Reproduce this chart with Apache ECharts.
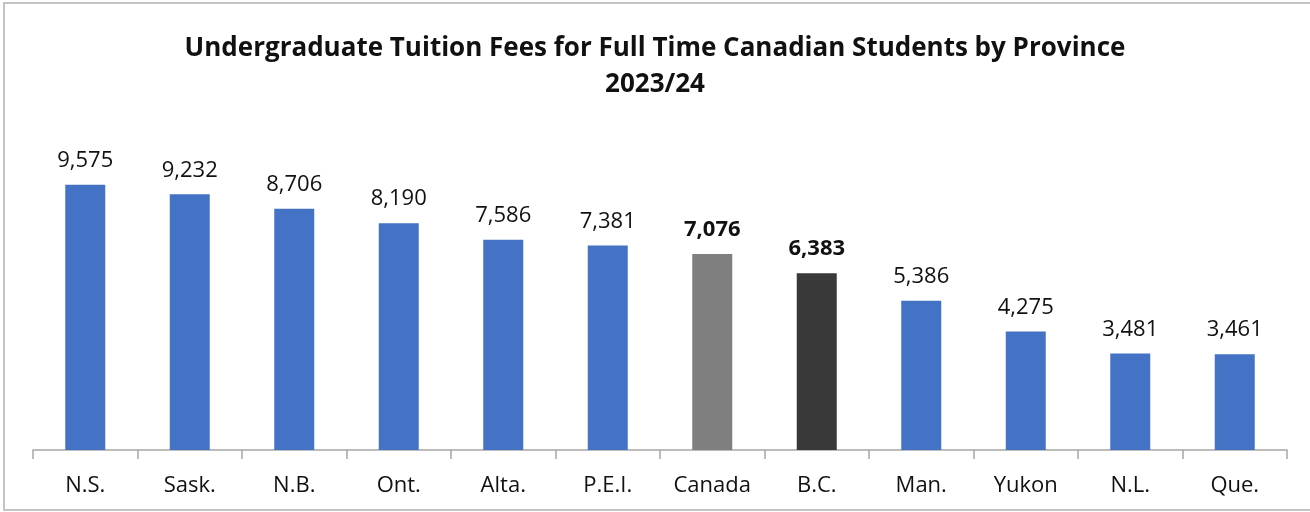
<!DOCTYPE html>
<html>
<head>
<meta charset="utf-8">
<script src="https://cdn.jsdelivr.net/npm/echarts@6/dist/echarts.min.js"></script>
<style>
  html, body { margin: 0; padding: 0; background: #fff; }
  #main { width: 1310px; height: 512px; }
</style>
</head>
<body>
<div id="main"></div>
<script>
var provinces = ['N.S.', 'Sask.', 'N.B.', 'Ont.', 'Alta.', 'P.E.I.', 'Canada', 'B.C.', 'Man.', 'Yukon', 'N.L.', 'Que.'];
var fees = [9575, 9232, 8706, 8190, 7586, 7381, 7076, 6383, 5386, 4275, 3481, 3461];
var highlight = { 'Canada': '#7f7f7f', 'B.C.': '#393939' };

var chart = echarts.init(document.getElementById('main'));

var barData = fees.map(function (v, i) {
  var name = provinces[i];
  var item = { value: v };
  if (highlight[name]) {
    item.itemStyle = { color: highlight[name] };
    item.label = { fontWeight: 'bold' };
  }
  return item;
});

chart.setOption({
  backgroundColor: '#fff',
  title: {
    text: 'Undergraduate Tuition Fees for Full Time Canadian Students by Province\n2023/24',
    left: 'center',
    top: 26,
    textStyle: {
      fontFamily: 'Open Sans',
      fontWeight: 'bold',
      fontSize: 26,
      color: '#111',
      lineHeight: 36
    }
  },
  graphic: [{
    type: 'rect',
    shape: { x: 4, y: 3, width: 1320, height: 507 },
    style: { fill: 'none', stroke: '#c4c4c4', lineWidth: 2 },
    silent: true
  }],
  grid: { left: 33, right: 23, top: 173, bottom: 62 },
  xAxis: {
    type: 'category',
    data: provinces,
    axisLine: { lineStyle: { color: '#a6a6a6', width: 1.5 } },
    axisTick: { show: true, length: 9, lineStyle: { color: '#a6a6a6', width: 1.5 } },
    axisLabel: {
      fontFamily: 'Open Sans',
      fontSize: 22,
      color: '#111',
      margin: 25
    }
  },
  yAxis: {
    type: 'value',
    min: 0,
    max: 10000,
    show: false
  },
  series: [{
    type: 'bar',
    data: barData,
    barWidth: 40,
    itemStyle: { color: '#4472c4' },
    label: {
      show: true,
      position: 'top',
      distance: 13,
      fontFamily: 'Open Sans',
      fontSize: 22,
      color: '#111',
      formatter: function (p) { return p.value.toLocaleString('en-US'); }
    }
  }]
});
</script>
</body>
</html>
